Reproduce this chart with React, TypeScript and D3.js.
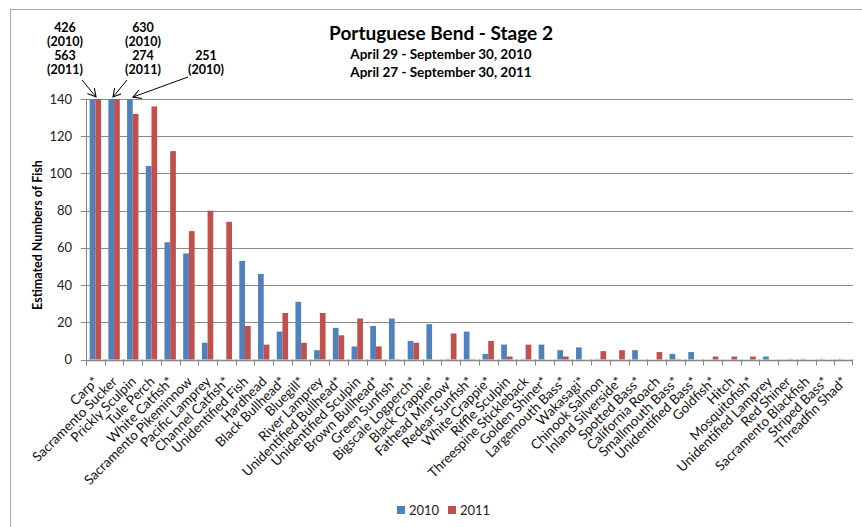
import * as d3 from "d3";

const categories = [
  "Carp*", "Sacramento Sucker", "Prickly Sculpin", "Tule Perch", "White Catfish*",
  "Sacramento Pikeminnow", "Pacific Lamprey", "Channel Catfish*", "Unidentified Fish", "Hardhead",
  "Black Bullhead*", "Bluegill*", "River Lamprey", "Unidentified Bullhead*", "Unidentified Sculpin",
  "Brown Bullhead*", "Green Sunfish*", "Bigscale Logperch*", "Black Crappie*", "Fathead Minnow*",
  "Redear Sunfish*", "White Crappie*", "Riffle Sculpin", "Threespine Stickleback", "Golden Shiner*",
  "Largemouth Bass*", "Wakasagi*", "Chinook Salmon", "Inland Silverside*", "Spotted Bass*",
  "California Roach", "Smallmouth Bass*", "Unidentified Bass*", "Goldfish*", "Hitch",
  "Mosquitofish*", "Unidentified Lamprey", "Red Shiner", "Sacramento Blackfish", "Striped Bass*",
  "Threadfin Shad*",
];

// estimated fish counts; bars above 140 are cut off at the axis top
const fish2010 = [
  426, 630, 251, 104, 63, 57, 9, 0, 53, 46,
  15, 31, 5, 17, 7, 18, 22, 10, 19, 0.5,
  15, 3, 8, 0.5, 8, 5, 6.5, 0.5, 0, 5,
  0, 3, 4, 0, 0, 0, 1.6, 0, 0.5, 0.5,
  0.5,
];
const fish2011 = [
  563, 274, 132, 136, 112, 69, 80, 74, 18, 8,
  25, 9, 25, 13, 22, 7, 0.5, 9, 0, 14,
  0.5, 10, 1.6, 8, 0, 1.6, 0, 4.5, 5, 0,
  4, 0.5, 0, 1.6, 1.6, 1.6, 0, 0.5, 0, 0,
  0,
];
const seriesNames = ["2010", "2011"];
const seriesColors = ["#4f81bd", "#c0504d"];
const yTicks = [0, 20, 40, 60, 80, 100, 120, 140];

const callouts = [
  { lines: ["426", "(2010)", "563", "(2011)"], x: 65, from: [82, 80], to: [96, 97] },
  { lines: ["630", "(2010)", "274", "(2011)"], x: 143, from: [127, 80], to: [113, 97] },
  { lines: ["251", "(2010)"], x: 206, from: [188, 77], to: [133, 97] },
];

const W = 862;
const H = 527;
const left = 86;
const right = 853;
const top = 99;
const bottom = 359.5;
const font = "Lato, 'Open Sans', sans-serif";

export default function App() {
  const x0 = d3.scaleBand<string>().domain(categories).range([left, right]).padding(0);
  const x1 = d3
    .scaleBand<string>()
    .domain(seriesNames)
    .range([0, x0.bandwidth()])
    .paddingInner(0)
    .paddingOuter(0.64);
  const y = d3.scaleLinear().domain([0, 140]).range([bottom, top]).clamp(true);

  const series = [fish2010, fish2011];

  return (
    <svg
      width={W}
      height={H}
      style={{ position: "absolute", left: 0, top: 0, background: "#fff" }}
      fontFamily={font}
    >
      <defs>
        <marker id="arr" viewBox="0 0 10 10" refX="9" refY="5" markerWidth="9" markerHeight="9" orient="auto">
          <path d="M0,0 L9,5 L0,10" fill="none" stroke="#000" strokeWidth="1.2" />
        </marker>
      </defs>
      <rect x={10.5} y={9.5} width={1000} height={1000} fill="none" stroke="#a6a6a6" />

      {/* titles */}
      <text x={441} y={40} textAnchor="middle" fontSize={19} fontWeight={700}>
        Portuguese Bend - Stage 2
      </text>
      <text x={441} y={59} textAnchor="middle" fontSize={13.5} fontWeight={700}>
        April 29 - September 30, 2010
      </text>
      <text x={441} y={77} textAnchor="middle" fontSize={13.5} fontWeight={700}>
        April 27 - September 30, 2011
      </text>

      {/* gridlines */}
      {yTicks.map((t) => (
        <line key={t} x1={left} x2={right} y1={Math.round(y(t)) + 0.5} y2={Math.round(y(t)) + 0.5} stroke="#8c8c8c" />
      ))}

      {/* bars */}
      {categories.map((c, i) => (
        <g key={c} transform={`translate(${x0(c)},0)`}>
          {series.map((vals, s) => {
            const v = vals[i];
            if (v <= 0) return null;
            const yy = y(v);
            return (
              <rect
                key={s}
                x={x1(seriesNames[s])}
                y={yy}
                width={x1.bandwidth()}
                height={Math.max(bottom - yy, 1)}
                fill={seriesColors[s]}
                fillOpacity={v < 1 ? 0.35 : 1}
              />
            );
          })}
        </g>
      ))}

      {/* axes */}
      <line x1={left + 0.5} x2={left + 0.5} y1={top} y2={bottom} stroke="#868686" />
      <line x1={left} x2={right} y1={Math.round(bottom) + 0.5} y2={Math.round(bottom) + 0.5} stroke="#868686" strokeWidth={1.5} />
      {yTicks.map((t) => (
        <g key={t}>
          <line x1={left - 5} x2={left} y1={Math.round(y(t)) + 0.5} y2={Math.round(y(t)) + 0.5} stroke="#868686" />
          <text x={72} y={y(t) + 4.5} textAnchor="end" fontSize={13} fill="#222">
            {t}
          </text>
        </g>
      ))}
      {categories.map((c) => (
        <line
          key={"t" + c}
          x1={Math.round(x0(c)!) + 0.5}
          x2={Math.round(x0(c)!) + 0.5}
          y1={bottom}
          y2={bottom + 6}
          stroke="#868686"
        />
      ))}
      <line x1={right - 0.5} x2={right - 0.5} y1={bottom} y2={bottom + 6} stroke="#868686" />

      {categories.map((c) => (
        <text
          key={"l" + c}
          transform={`translate(${x0(c)! + x0.bandwidth() / 2 + 4},${bottom + 23}) rotate(-45)`}
          textAnchor="end"
          fontSize={13.5}
          fill="#111"
        >
          {c}
        </text>
      ))}

      <text
        transform={`translate(42,235) rotate(-90)`}
        textAnchor="middle"
        fontSize={12.5}
        fontWeight={700}
      >
        Estimated Numbers of Fish
      </text>

      {/* callouts for bars off the scale */}
      {callouts.map((co, k) => (
        <g key={k}>
          {co.lines.map((ln, j) => (
            <text
              key={j}
              x={co.x}
              y={(co.lines.length === 2 ? 60 : 32) + j * 14}
              textAnchor="middle"
              fontSize={12.5}
              fontWeight={700}
            >
              {ln}
            </text>
          ))}
          <line x1={co.from[0]} y1={co.from[1]} x2={co.to[0]} y2={co.to[1]} stroke="#000" strokeWidth={1} markerEnd="url(#arr)" />
        </g>
      ))}

      {/* legend */}
      {seriesNames.map((s, i) => (
        <g key={s} transform={`translate(${397 + i * 51},506)`}>
          <rect width={8} height={8} fill={seriesColors[i]} />
          <text x={12} y={9} fontSize={13} fill="#222">
            {s}
          </text>
        </g>
      ))}
    </svg>
  );
}
